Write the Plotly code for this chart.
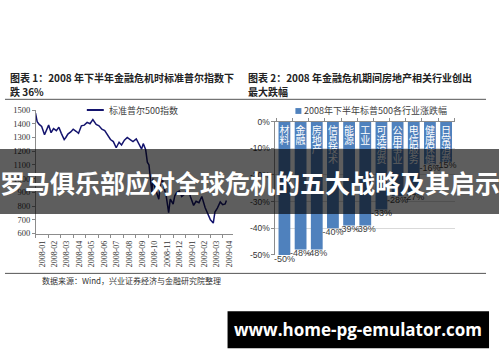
import plotly.graph_objects as go

# ---------------- data ----------------
sp_dates = ["2007-12-31","2008-01-04","2008-01-09","2008-01-15","2008-01-22","2008-01-28","2008-02-01",
            "2008-02-07","2008-02-13","2008-02-20","2008-02-26","2008-03-03","2008-03-10","2008-03-14",
            "2008-03-19","2008-03-26","2008-04-01","2008-04-08","2008-04-14","2008-04-21","2008-04-28",
            "2008-05-05","2008-05-12","2008-05-19","2008-05-27","2008-06-03","2008-06-10","2008-06-17",
            "2008-06-24","2008-07-01","2008-07-08","2008-07-15","2008-07-22","2008-07-28","2008-08-04",
            "2008-08-11","2008-08-18","2008-08-25","2008-09-02","2008-09-09","2008-09-15","2008-09-19",
            "2008-09-25","2008-09-29","2008-10-03","2008-10-10","2008-10-13","2008-10-17","2008-10-22",
            "2008-10-27","2008-10-31","2008-11-04","2008-11-10","2008-11-14","2008-11-20","2008-11-24",
            "2008-12-01","2008-12-05","2008-12-10","2008-12-16","2008-12-22","2008-12-30","2009-01-06",
            "2009-01-12","2009-01-20","2009-01-26","2009-02-02","2009-02-09","2009-02-17","2009-02-23",
            "2009-03-02","2009-03-09","2009-03-13","2009-03-19","2009-03-26","2009-04-01","2009-04-07",
            "2009-04-10"]
sp_values = [1478,1415,1395,1380,1320,1355,1390,
             1335,1365,1350,1375,1330,1285,1300,
             1325,1340,1360,1345,1330,1385,1390,
             1410,1400,1430,1395,1385,1360,1350,
             1320,1285,1270,1225,1265,1245,1280,
             1300,1285,1270,1290,1245,1215,1255,
             1210,1120,1100,900,1000,940,900,
             850,965,1005,920,875,752,850,
             815,875,900,910,870,890,935,
             870,805,835,825,870,790,745,
             700,676,756,785,830,810,815,
             840]
left_y_ticks = [600,700,800,900,1000,1100,1200,1300,1400,1500]

sectors = ["材料","金融","房地产","信息技术","能源","工业","可选消费","公用事业","电信服务","健康保健","日常消费"]
sector_changes = [-50,-48,-48,-40,-39,-39,-33,-28,-27,-16,-15]
right_y_ticks = [0,-10,-20,-30,-40,-50]
right_y_text = ["0%","-10%","-20%","-30%","-40%","-50%"]

title1 = ["图表 1：2008 年下半年金融危机时标准普尔指数下", "跌 36%"]
title2 = ["图表 2：2008 年金融危机期间房地产相关行业创出", "最大跌幅"]
legend1 = "标准普尔500指数"
legend2 = "2008年下半年标普500各行业涨跌幅"
source = "数据来源：Wind，兴业证券经济与金融研究院整理"
banner = "罗马俱乐部应对全球危机的五大战略及其启示"
watermark = "www.home-pg-emulator.com"

# ---------------- helpers ----------------
W, H = 500, 362
def px(x): return x / W
def py(y): return 1 - y / H

CJK = "Noto Sans CJK SC"
BAR_BLUE = "#4F81BD"

fig = go.Figure()

fig.add_trace(go.Scatter(x=sp_dates, y=sp_values, mode="lines",
                         line=dict(color="#14146e", width=1.5),
                         xaxis="x", yaxis="y", showlegend=False, hoverinfo="skip"))

fig.add_trace(go.Bar(x=sectors, y=sector_changes, marker=dict(color=BAR_BLUE, line=dict(width=0)),
                     xaxis="x2", yaxis="y2", showlegend=False, hoverinfo="skip"))

# vertical category names inside the bars (one character per row)
px_per_unit = (257 - 120) / 50.0
cx, cy, ct = [], [], []
for name in sectors:
    for j, ch in enumerate(name):
        cx.append(name)
        cy.append(-(10 + 10 * j) / px_per_unit)
        ct.append(ch)
fig.add_trace(go.Scatter(x=cx, y=cy, text=ct, mode="text", textposition="middle center",
                         textfont=dict(family=CJK, size=10, color="white"),
                         xaxis="x2", yaxis="y2", showlegend=False, hoverinfo="skip", cliponaxis=False))

# value labels below bars
fig.add_trace(go.Scatter(x=sectors, y=sector_changes, text=[f"{v}%" for v in sector_changes],
                         mode="text", textposition="bottom center",
                         textfont=dict(family="Liberation Sans", size=9, color="#404040"),
                         xaxis="x2", yaxis="y2", showlegend=False, hoverinfo="skip", cliponaxis=False))

axis_font_serif = dict(family="Liberation Serif", size=8.5, color="#333333")
axis_font_sans = dict(family="Liberation Sans", size=8.5, color="#333333")

fig.update_layout(
    width=W, height=H, margin=dict(l=0, r=0, t=0, b=0),
    paper_bgcolor="white", plot_bgcolor="white",
    xaxis=dict(domain=[px(36), px(233)], anchor="y", type="date",
               range=["2008-01-01", "2009-04-25"], dtick="M1", tickformat="%Y-%m",
               ticklabelmode="period", tickangle=-90, tickfont=dict(family="Liberation Serif", size=8, color="#333333"),
               showline=True, linecolor="#8c8c8c", linewidth=1, ticks="outside", ticklen=3,
               tickcolor="#8c8c8c", showgrid=False, zeroline=False),
    yaxis=dict(domain=[py(235), py(108)], anchor="x", range=[600, 1500], tickvals=left_y_ticks,
               tickfont=axis_font_serif, showline=True, linecolor="#8c8c8c", linewidth=1,
               ticks="outside", ticklen=3, tickcolor="#8c8c8c", showgrid=False, zeroline=False),
    xaxis2=dict(domain=[px(276), px(456)], anchor="y2", side="top", type="category",
                showticklabels=False, showline=True, linecolor="#8c8c8c", linewidth=1,
                ticks="outside", ticklen=3, tickcolor="#8c8c8c", tickson="boundaries",
                showgrid=False, zeroline=False),
    yaxis2=dict(domain=[py(257), py(120)], anchor="x2", range=[-50, 0], tickvals=right_y_ticks,
                ticktext=right_y_text, tickfont=axis_font_sans, showline=True, linecolor="#8c8c8c",
                linewidth=1, ticks="outside", ticklen=3, tickcolor="#8c8c8c",
                showgrid=True, gridcolor="#d9d9d9", gridwidth=1, zeroline=False),
    bargap=0.27,
    font=dict(family=CJK),
)

shapes = [
    dict(type="line", xref="paper", yref="paper", x0=px(5), x1=px(487), y0=py(97), y1=py(97),
         line=dict(color="#555555", width=1)),
    dict(type="line", xref="paper", yref="paper", x0=px(5), x1=px(487), y0=py(276), y1=py(276),
         line=dict(color="#555555", width=1)),
    dict(type="line", xref="paper", yref="paper", x0=px(87), x1=px(104), y0=py(108), y1=py(108),
         line=dict(color="#14146e", width=2)),
    dict(type="rect", xref="paper", yref="paper", x0=px(296), x1=px(302), y0=py(112), y1=py(106),
         fillcolor=BAR_BLUE, line=dict(width=0)),
    dict(type="rect", xref="paper", yref="paper", x0=0, x1=1, y0=py(215), y1=py(148),
         fillcolor="rgba(0,0,0,0.63)", line=dict(width=0), layer="above"),
    dict(type="rect", xref="paper", yref="paper", x0=px(228), x1=px(490), y0=py(353), y1=py(315),
         fillcolor="black", line=dict(width=0), layer="above"),
]
fig.update_layout(shapes=shapes)

def ann(text, x, y, size, color="#222222", xanchor="left", family=CJK, weight="normal"):
    return dict(text=text, x=px(x), y=py(y), xref="paper", yref="paper", showarrow=False,
                xanchor=xanchor, yanchor="middle",
                font=dict(family=family, size=size, color=color, weight=weight))

anns = [
    ann(title1[0], 8, 75, 10, weight="bold"),
    ann(title1[1], 8, 89, 10, weight="bold"),
    ann(title2[0], 246, 75, 10, weight="bold"),
    ann(title2[1], 246, 89, 10, weight="bold"),
    ann(legend1, 107, 108, 9, color="#404040"),
    ann(legend2, 303, 109, 9, color="#404040"),
    ann(source, 40, 283, 8, color="#333333"),
    ann(banner, 250, 182, 25, color="white", xanchor="center", weight="bold"),
    ann(watermark, 359, 334, 17, color="white", xanchor="center", family="Open Sans", weight="bold"),
]
fig.update_layout(annotations=anns)

fig.write_html("out.html", config={"displayModeBar": False})
